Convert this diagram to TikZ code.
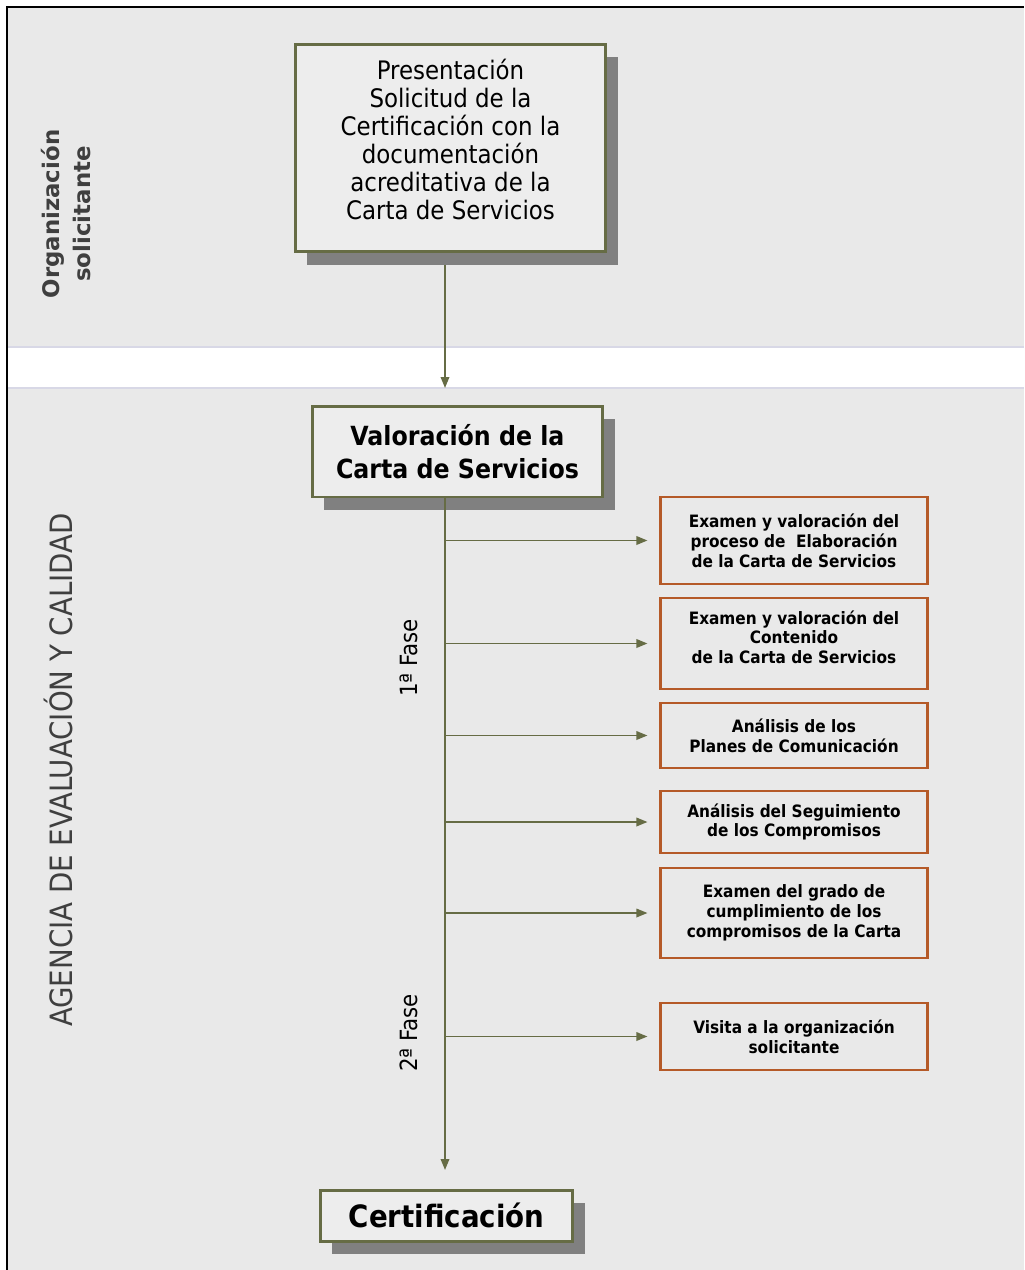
\documentclass[tikz,border=0pt]{standalone}
\usepackage{fontspec}
\setmainfont{DejaVu Sans}
\newfontfamily\condfont{DejaVu Sans Condensed}
\usetikzlibrary{arrows.meta,shadows}

\definecolor{bandgray}{HTML}{E9E9E9}
\definecolor{bandline}{HTML}{D8D8E6}
\definecolor{olive}{HTML}{666C45}
\definecolor{shadowgray}{HTML}{808080}
\definecolor{taskorange}{HTML}{B55A28}
\definecolor{lanetext}{HTML}{3F3F3F}

\begin{document}
\begin{tikzpicture}[
	x=0.02cm, y=-0.02cm,
	main/.style={
		rectangle,
		draw=olive,
		line width=1.7pt,
		fill=bandgray!80!white,
		align=center,
		inner sep=0pt,
		drop shadow={shadow xshift=0.24cm, shadow yshift=-0.26cm, fill=shadowgray, opacity=1}
	},
	task/.style={
		rectangle,
		draw=taskorange,
		line width=1.2pt,
		fill=bandgray,
		align=center,
		inner sep=0pt,
		minimum width=5.34cm,
		font=\condfont\bfseries\fontsize{9.7}{11.3}\selectfont
	},
	lane/.style={
		rotate=90,
		align=center,
		text=lanetext
	},
	arr/.style={
		draw=olive,
		line width=1pt,
		-{Triangle[length=0.22cm,width=0.17cm]}
	}
]

\useasboundingbox (0,0) rectangle (1024,1270);

% swimlanes
\fill[bandgray] (7,7) rectangle (1024,347);
\fill[white] (7,347) rectangle (1024,388);
\fill[bandgray] (7,388) rectangle (1024,1270);
\draw[bandline, line width=1pt] (7,347) -- (1024,347);
\draw[bandline, line width=1pt] (7,388) -- (1024,388);
\draw[black, line width=1pt] (7,1270) -- (7,7) -- (1024,7);

\node[lane, font=\bfseries\fontsize{13}{18}\selectfont] (lane_org) at (66,214) {Organización\\solicitante};
\node[lane, font=\condfont\fontsize{17.5}{20}\selectfont] (lane_age) at (58,770) {AGENCIA DE EVALUACIÓN Y CALIDAD};

\node[lane, font=\condfont\fontsize{13.5}{15}\selectfont, text=black] (fase_one) at (409,658) {1ª Fase};
\node[lane, font=\condfont\fontsize{13.5}{15}\selectfont, text=black] (fase_two) at (409,1033) {2ª Fase};

% main flow
\node[main, minimum width=6.22cm, minimum height=4.16cm, font=\condfont\fontsize{14.5}{15.9}\selectfont] (top_pres) at (450.5,148) {Presentación\\Solicitud de la\\Certificación con la\\documentación\\acreditativa de la\\Carta de Servicios\\[-0.2cm]};
\node[main, minimum width=5.82cm, minimum height=1.82cm, font=\condfont\bfseries\fontsize{15}{18.7}\selectfont] (mid_val) at (457.5,451.5) {Valoración de la\\Carta de Servicios};
\node[main, minimum width=5.06cm, minimum height=1.02cm, font=\condfont\bfseries\fontsize{17.5}{20}\selectfont] (bot_cert) at (446.5,1215.5) {Certificación};

% tasks
\node[task, minimum height=1.74cm] (task_elab) at (794,540.5) {Examen y valoración del\\proceso de\ \ Elaboración\\de la Carta de Servicios};
\node[task, minimum height=1.82cm] (task_cont) at (794,643.5) {Examen y valoración del\\Contenido\\de la Carta de Servicios\\[-0.14cm]};
\node[task, minimum height=1.30cm] (task_plan) at (794,735.5) {Análisis de los\\Planes de Comunicación};
\node[task, minimum height=1.24cm] (task_seg) at (794,822) {Análisis del Seguimiento\\de los Compromisos};
\node[task, minimum height=1.80cm] (task_grado) at (794,913) {Examen del grado de\\cumplimiento de los\\compromisos de la Carta};
\node[task, minimum height=1.34cm] (task_visit) at (794,1036.5) {Visita a la organización\\solicitante};

\coordinate (trunk_top) at (445,265);
\coordinate (trunk_in) at (445,388);
\coordinate (trunk_bot) at (445,497);
\coordinate (trunk_end) at (445,1170);

\draw[arr] (trunk_top) -- (trunk_in);
\draw[arr] (trunk_bot) -- (trunk_end);

\foreach \t in {task_elab,task_cont,task_plan,task_seg,task_grado,task_visit}
	\draw[arr, shorten >=0.24cm] (trunk_bot |- \t.west) -- (\t.west);

\end{tikzpicture}
\end{document}
